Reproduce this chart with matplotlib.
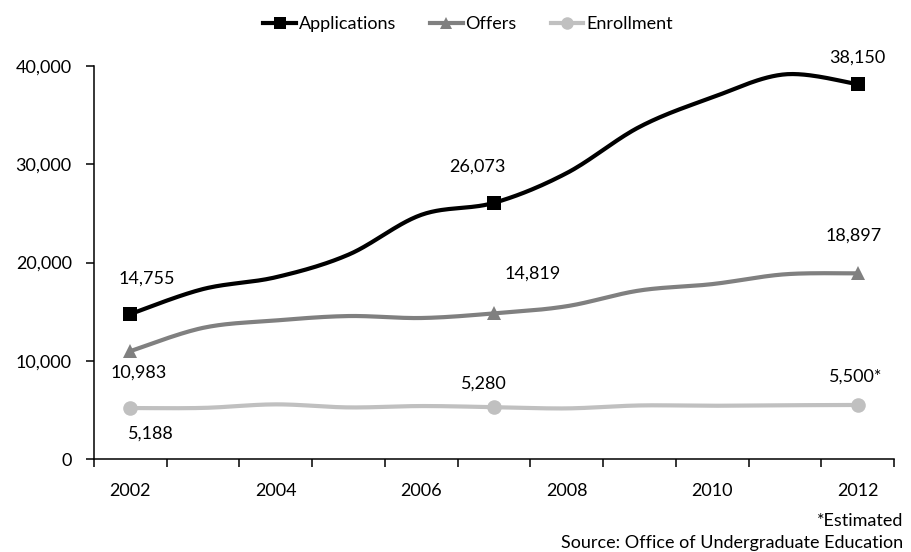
import numpy as np
import matplotlib
matplotlib.use("Agg")
import matplotlib.pyplot as plt
from matplotlib.lines import Line2D

plt.rcParams['font.family'] = ['Lato', 'DejaVu Sans']

years = [2002, 2003, 2004, 2005, 2006, 2007, 2008, 2009, 2010, 2011, 2012]
applications = [14755, 17300, 18500, 20800, 24850, 26073, 29100, 33800, 36800, 39150, 38150]
offers = [10983, 13350, 14100, 14550, 14350, 14819, 15550, 17150, 17800, 18800, 18897]
enrollment = [5188, 5200, 5560, 5250, 5390, 5280, 5150, 5450, 5420, 5470, 5500]

marked_years = [2002, 2007, 2012]
year_ticks = [2002, 2004, 2006, 2008, 2010, 2012]
y_ticks = [0, 10000, 20000, 30000, 40000]

# label text and offset (pixels) from its point, per series
app_labels = {2002: ("14,755", (16, 35)), 2007: ("26,073", (-17, 36)), 2012: ("38,150", (0, 27))}
off_labels = {2002: ("10,983", (8, -22)), 2007: ("14,819", (39, 40)), 2012: ("18,897", (-4, 38))}
enr_labels = {2002: ("5,188", (20, -26)), 2007: ("5,280", (-10, 23)), 2012: ("5,500*", (-2, 28))}


def smooth(xs, ys, n=30):
    """Catmull-Rom style Bezier smoothing through all points."""
    P = np.column_stack([xs, ys]).astype(float)
    out = []
    m = len(P)
    t = np.linspace(0, 1, n)[:, None]
    for i in range(m - 1):
        p0 = P[i - 1] if i > 0 else P[i]
        p1 = P[i]
        p2 = P[i + 1]
        p3 = P[i + 2] if i + 2 < m else P[i + 1]
        c1 = p1 + (p2 - p0) / 6.0
        c2 = p2 - (p3 - p1) / 6.0
        seg = ((1 - t) ** 3) * p1 + 3 * ((1 - t) ** 2) * t * c1 + 3 * (1 - t) * t ** 2 * c2 + t ** 3 * p2
        out.append(seg if i == 0 else seg[1:])
    seg = np.vstack(out)
    return seg[:, 0], seg[:, 1]


fig = plt.figure(figsize=(9.11, 5.52), dpi=100)
ax = fig.add_axes([94 / 911, 1 - 459 / 552, (894 - 94) / 911, (459 - 66) / 552])

xpos = np.arange(len(years))
series = [
    ("Applications", applications, "#000000", "s", 10.5, app_labels),
    ("Offers", offers, "#808080", "^", 10.5, off_labels),
    ("Enrollment", enrollment, "#c0c0c0", "o", 10.5, enr_labels),
]

handles = []
for name, vals, color, marker, ms, labels in series:
    sx, sy = smooth(xpos, vals)
    ax.plot(sx, sy, color=color, lw=3.0, solid_capstyle='round', zorder=2)
    mi = [years.index(y) for y in marked_years]
    ax.plot(xpos[mi], np.array(vals)[mi], linestyle='none', marker=marker,
            markersize=ms, color=color, markeredgewidth=0, zorder=3)
    for yr, (txt, (dx, dy)) in labels.items():
        i = years.index(yr)
        ax.annotate(txt, xy=(xpos[i], vals[i]), xytext=(dx * 0.72, dy * 0.72),
                    textcoords='offset points', ha='center', va='center',
                    fontsize=13, color='#000000')
    handles.append(Line2D([0], [0], color=color, lw=3.0, marker=marker,
                          markersize=9, markeredgewidth=0))

ax.set_xlim(-0.5, len(years) - 0.5)
ax.set_ylim(0, 40000)

ax.set_xticks([years.index(y) for y in year_ticks])
ax.set_xticklabels([str(y) for y in year_ticks])
ax.set_xticks(np.arange(-0.5, len(years)), minor=True)
ax.tick_params(axis='x', which='major', length=0, pad=17, labelsize=13)
ax.tick_params(axis='x', which='minor', length=6, width=1.1, direction='out')

ax.set_yticks(y_ticks)
ax.set_yticklabels([f"{v:,}" for v in y_ticks])
ax.tick_params(axis='y', length=6, width=1.1, direction='out', pad=10, labelsize=13)

for s in ('top', 'right'):
    ax.spines[s].set_visible(False)
for s in ('left', 'bottom'):
    ax.spines[s].set_linewidth(1.1)

fig.legend(handles, [s[0] for s in series], loc='center', bbox_to_anchor=(468 / 911, 1 - 24 / 552),
           ncol=3, frameon=False, fontsize=13, handlelength=1.8, handletextpad=0.15,
           columnspacing=1.9)

fig.text(903 / 911, 1 - 521 / 552, "*Estimated", ha='right', va='center', fontsize=13)
fig.text(903 / 911, 1 - 543 / 552, "Source: Office of Undergraduate Education",
         ha='right', va='center', fontsize=13)

fig.savefig("out.png", dpi=100)
